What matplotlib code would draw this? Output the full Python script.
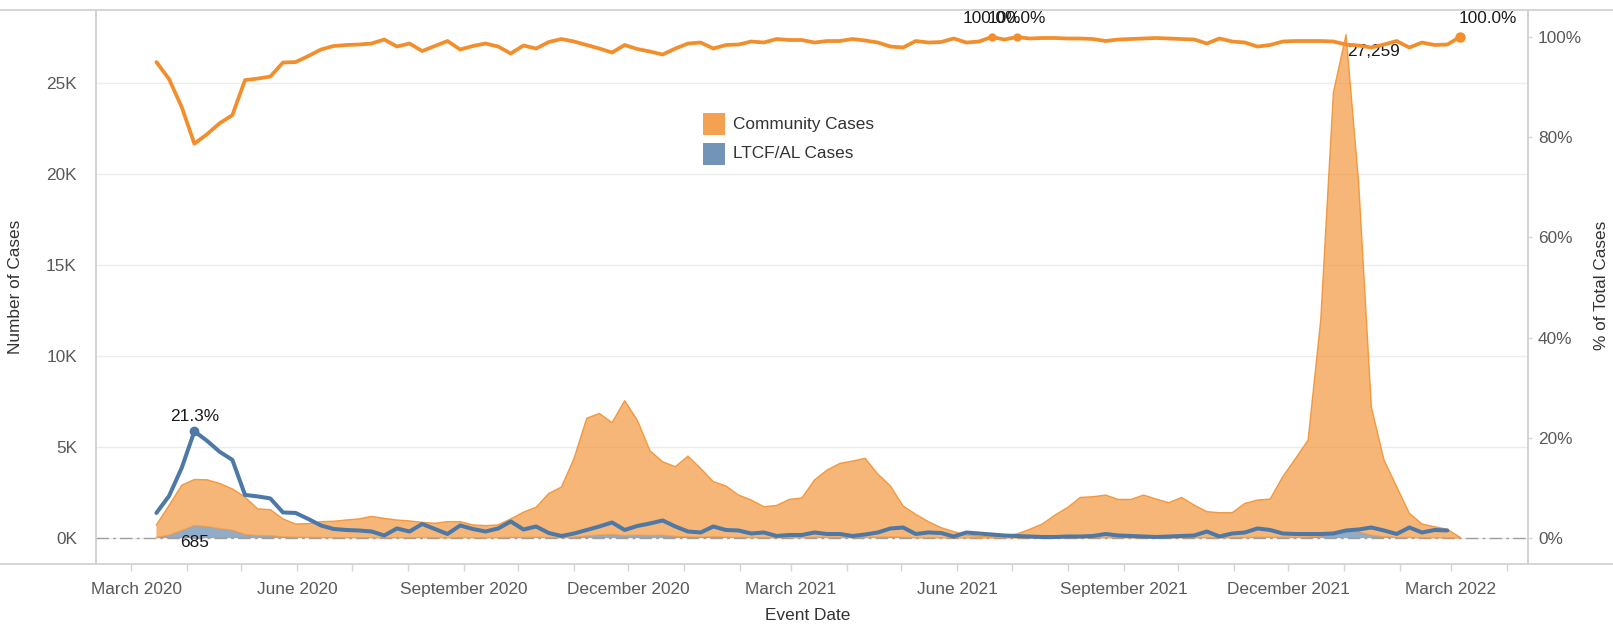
import numpy as np
import matplotlib
matplotlib.use("Agg")
import matplotlib.pyplot as plt
import matplotlib.dates as mdates
import matplotlib.transforms as mtrans
from matplotlib.lines import Line2D
from matplotlib.patches import Rectangle
from matplotlib.ticker import FixedLocator, FuncFormatter

plt.rcParams['font.family'] = ['Liberation Sans', 'DejaVu Sans']

# ---------------- data (weekly, week starting Sunday) ----------------
first_week = "2020-03-15"
n_weeks = 104

community = [684, 1649, 2494, 2531, 2579, 2484, 2279, 2056, 1467, 1437,
             996, 731, 760, 877, 903, 974, 1034, 1175, 1075, 971,
             928, 836, 795, 893, 877, 707, 671, 706, 1015, 1396,
             1651, 2425, 2789, 4341, 6475, 6692, 6143, 7429, 6324, 4661,
             4043, 3830, 4441, 3788, 3029, 2814, 2325, 2071, 1701, 1783,
             2107, 2187, 3155, 3710, 4067, 4213, 4349, 3481, 2806, 1723,
             1290, 890, 564, 349, 158, 109, 70, 109, 220, 479,
             768, 1257, 1675, 2223, 2261, 2341, 2109, 2112, 2353, 2136,
             1934, 2221, 1801, 1431, 1386, 1377, 1879, 2050, 2106, 3340,
             4325, 5337, 11904, 24279, 27259, 19168, 7049, 4226, 2797, 1331,
             762, 610, 473, 40]

ltcf = [36, 151, 406, 685, 621, 516, 421, 194, 133, 123,
        54, 39, 30, 23, 17, 16, 16, 15, 5, 19,
        12, 24, 15, 7, 23, 13, 9, 14, 35, 24,
        39, 25, 11, 39, 105, 158, 197, 121, 156, 139,
        147, 90, 59, 42, 71, 46, 35, 19, 19, 7,
        13, 13, 35, 30, 33, 17, 31, 39, 54, 37,
        10, 10, 6, 1, 2, 1, 0, 1, 0, 1,
        2, 3, 5, 7, 9, 19, 11, 8, 7, 4,
        6, 9, 9, 19, 4, 13, 21, 40, 34, 30,
        35, 43, 96, 221, 415, 332, 151, 64, 23, 29,
        8, 10, 7, 0]

nan = float('nan')
ltcf_pct = [5.0, 8.4, 14.0, 21.3, 19.4, 17.2, 15.6, 8.6, 8.3, 7.9,
            5.1, 5.0, 3.8, 2.5, 1.8, 1.6, 1.5, 1.3, 0.5, 1.9,
            1.3, 2.8, 1.8, 0.8, 2.5, 1.8, 1.3, 1.9, 3.3, 1.7,
            2.3, 1.0, 0.4, 0.9, 1.6, 2.3, 3.1, 1.6, 2.4, 2.9,
            3.5, 2.3, 1.3, 1.1, 2.3, 1.6, 1.5, 0.9, 1.1, 0.4,
            0.6, 0.6, 1.1, 0.8, 0.8, 0.4, 0.7, 1.1, 1.9, 2.1,
            0.8, 1.1, 1.0, 0.3, 1.1, 0.9, nan, 0.5, nan, 0.3,
            0.2, 0.2, 0.3, 0.3, 0.4, 0.8, 0.5, 0.4, 0.3, 0.2,
            0.3, 0.4, 0.5, 1.3, 0.3, 0.9, 1.1, 1.9, 1.6, 0.9,
            0.8, 0.8, 0.8, 0.9, 1.5, 1.7, 2.1, 1.5, 0.8, 2.1,
            1.1, 1.6, 1.5, nan]
# share of community cases is the complement of the LTCF/AL share
community_pct = [100.0 if p != p else round(100.0 - p, 1) for p in ltcf_pct]

major_months = [3, 6, 9, 12]
left_ticks = [0, 5, 10, 15, 20, 25]
right_ticks = [0, 20, 40, 60, 80, 100]

# ---------------- style ----------------
ORANGE = '#F28E2B'
BLUE = '#4E79A7'
W, H = 1613, 627
FS = 12.4

weeks = np.datetime64(first_week) + np.arange(n_weeks) * np.timedelta64(7, 'D')
x = mdates.date2num(weeks.astype('datetime64[s]').astype(object))
comm_k = np.array(community) / 1000.0
ltcf_k = np.array(ltcf) / 1000.0
total_k = comm_k + ltcf_k
lp = np.array(ltcf_pct, dtype=float)
cp = np.array(community_pct, dtype=float)

fig = plt.figure(figsize=(W / 100, H / 100), dpi=100)
ax_l, ax_r, ax_t, ax_b = 95.7, 1527.6, 10.3, 563.7
ax = fig.add_axes([ax_l / W, 1 - ax_b / H, (ax_r - ax_l) / W, (ax_b - ax_t) / H])
ax2 = ax.twinx()

# areas (stacked: LTCF at bottom, community on top)
ax.axhline(0, color='#a0a0a0', lw=1.0, ls=(0, (9, 3, 2, 3)), zorder=0.6)
ax.fill_between(x, 0, ltcf_k, facecolor=BLUE, alpha=0.62, lw=0, zorder=1)
ax.fill_between(x, ltcf_k, total_k, facecolor=ORANGE, alpha=0.64, lw=0, zorder=1.1)
ax.plot(x, total_k, color=ORANGE, lw=1.0, alpha=0.85, zorder=1.2)
ax.plot(x, ltcf_k, color=ORANGE, lw=1.0, alpha=0.6, zorder=1.2)

# percent lines
valid = ~np.isnan(lp)
ax2.plot(x, cp, color=ORANGE, lw=2.7, solid_joinstyle='round',
         solid_capstyle='round', zorder=3)
ax2.plot(x[valid], lp[valid], color=BLUE, lw=2.9, solid_joinstyle='round',
         solid_capstyle='round', zorder=3)

# axes ranges
x_left = mdates.date2num(np.datetime64('2020-02-10T10:00').astype(object))
x_right = mdates.date2num(np.datetime64('2022-04-12T10:00').astype(object))
ax.set_xlim(x_left, x_right)
ax.set_ylim(-1.413, 29.01)
ax2.set_ylim(-5.13, 105.33)

ax.yaxis.set_major_locator(FixedLocator(left_ticks))
ax.yaxis.set_major_formatter(FuncFormatter(lambda v, p: f"{int(round(v))}K"))
ax2.yaxis.set_major_locator(FixedLocator(right_ticks))
ax2.yaxis.set_major_formatter(FuncFormatter(lambda v, p: f"{int(round(v))}%"))

ax.xaxis.set_major_locator(mdates.MonthLocator(bymonth=major_months))
ax.xaxis.set_minor_locator(mdates.MonthLocator())
ax.xaxis.set_major_formatter(mdates.DateFormatter('%B %Y'))

ax.yaxis.grid(True, color='#ececec', lw=1.0, zorder=0)
ax.set_axisbelow(True)

TICKC = '#595959'
ax.tick_params(axis='x', which='both', direction='out', length=5, width=1,
               color='#d4d4d4', labelcolor=TICKC, labelsize=FS, pad=8)
ax.tick_params(axis='y', length=0, labelcolor=TICKC, labelsize=FS, pad=13.5)
ax2.tick_params(axis='y', length=3, width=1, color='#d4d4d4', labelcolor=TICKC,
                labelsize=FS, pad=4.5)

for s in ['top', 'bottom', 'right']:
    ax.spines[s].set_visible(False)
ax.spines['left'].set_color('#c8c8c8')
ax.spines['left'].set_linewidth(1.1)
for s in ['top', 'bottom', 'left']:
    ax2.spines[s].set_visible(False)
ax2.spines['right'].set_color('#c8c8c8')
ax2.spines['right'].set_linewidth(1.1)

# keep the first date label inside the pane, as in the reference
fig.canvas.draw()
first_lbl = ax.get_xticklabels()[0]
first_lbl.set_transform(first_lbl.get_transform() +
                        mtrans.ScaledTranslation(5 / 100, 0, fig.dpi_scale_trans))

# figure-wide pane borders
for yy in (ax_t, ax_b):
    fig.add_artist(Line2D([0, 1], [1 - yy / H] * 2, transform=fig.transFigure,
                          color='#d2d2d2', lw=1.3))

# axis titles
TITLEC = '#333333'
fig.text(15.7 / W, 1 - 287 / H, 'Number of Cases', rotation=90, ha='center',
         va='center', fontsize=FS, color=TITLEC)
fig.text(1601 / W, 1 - 285 / H, '% of Total Cases', rotation=90, ha='center',
         va='center', fontsize=FS, color=TITLEC)
fig.text(808 / W, 1 - 615 / H, 'Event Date', ha='center', va='center',
         fontsize=FS, color=TITLEC)

# legend
for k, (lab, col, a) in enumerate([('Community Cases', ORANGE, 0.82),
                                   ('LTCF/AL Cases', BLUE, 0.8)]):
    y0 = 113 + k * 30
    fig.add_artist(Rectangle((703 / W, 1 - (y0 + 22) / H), 22 / W, 22 / H,
                             transform=fig.transFigure, facecolor=col,
                             alpha=a, edgecolor='none'))
    fig.text(733 / W, 1 - (y0 + 11) / H, lab, ha='left', va='center',
             fontsize=FS, color=TITLEC)

# mark labels
LBLC = '#1a1a1a'
i_lmax = int(np.nanargmax(lp))
ax2.plot([x[i_lmax]], [lp[i_lmax]], 'o', color=BLUE, ms=6, zorder=4)
ax2.annotate(f"{lp[i_lmax]:.1f}%", (x[i_lmax], lp[i_lmax]), xytext=(0, 11),
             textcoords='offset points', ha='center', va='center',
             fontsize=FS, color=LBLC, zorder=5)

i_cnt = int(np.argmax(ltcf))
ax.annotate(f"{ltcf[i_cnt]:,}", (x[i_cnt], ltcf_k[i_cnt]), xytext=(0, -12),
            textcoords='offset points', ha='center', va='center',
            fontsize=FS, color=LBLC, zorder=5)

i_cmax = int(np.argmax(community))
ax.annotate(f"{community[i_cmax]:,}", (x[i_cmax], total_k[i_cmax]),
            xytext=(1, -12), textcoords='offset points', ha='left',
            va='center', fontsize=FS, color=LBLC, zorder=5)

cmax = np.nanmax(cp)
idx_max = [i for i in range(n_weeks) if cp[i] >= cmax - 1e-9]
for i in idx_max:
    ax2.plot([x[i]], [cp[i]], 'o', color=ORANGE, ms=5 if i < n_weeks - 1 else 6.5,
             zorder=4)
    if i == n_weeks - 1:
        ax2.annotate(f"{cp[i]:.1f}%", (x[i], cp[i]), xytext=(-1, 13),
                     textcoords='offset points', ha='left', va='center',
                     fontsize=FS, color=LBLC, zorder=5, annotation_clip=False)
    else:
        ax2.annotate(f"{cp[i]:.1f}%", (x[i], cp[i]), xytext=(0, 13),
                     textcoords='offset points', ha='center', va='center',
                     fontsize=FS, color=LBLC, zorder=5, annotation_clip=False)

fig.savefig('out.png', dpi=100)
